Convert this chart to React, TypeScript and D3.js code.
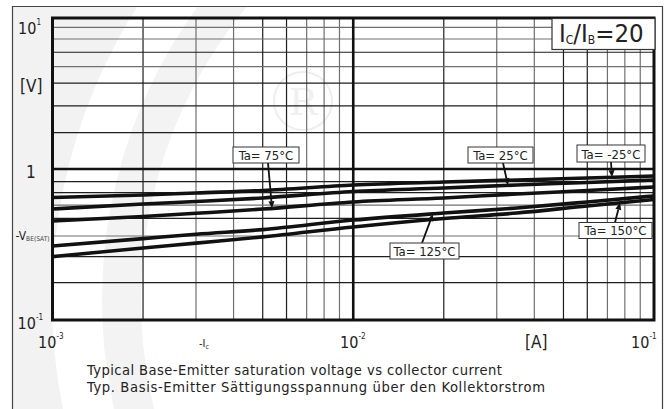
import { useEffect, useRef } from 'react';
import * as d3 from 'd3';

// collector current [A]
const currents = [0.001, 0.002, 0.003, 0.005, 0.01, 0.02, 0.035, 0.06, 0.1];
// -VBE(sat) [V] per ambient temperature
const vbeTaM25 = [0.647, 0.673, 0.694, 0.72, 0.784, 0.82, 0.846, 0.872, 0.899];
const vbeTa25 = [0.543, 0.586, 0.609, 0.643, 0.71, 0.748, 0.784, 0.814, 0.846];
const vbeTa75 = [0.452, 0.485, 0.509, 0.543, 0.605, 0.643, 0.683, 0.72, 0.76];
const vbeTa125 = [0.309, 0.346, 0.37, 0.397, 0.459, 0.511, 0.552, 0.605, 0.663];
const vbeTa150 = [0.263, 0.3, 0.323, 0.355, 0.413, 0.47, 0.511, 0.569, 0.628];
const seriesLabels = ['Ta= -25°C', 'Ta= 25°C', 'Ta= 75°C', 'Ta= 125°C', 'Ta= 150°C'];
// current where each label's arrow touches its curve
const arrowCurrents = [0.0725, 0.0327, 0.00537, 0.0184, 0.0771];

const xDecades = [0.001, 0.01];
const xMultipliers = [2, 3, 4, 5, 6, 7, 8, 9];
const yGridValues = [8.68, 7.26, 5.93, 4.76, 3.7, 2.62, 1.74, 0.824, 0.697, 0.577, 0.471, 0.36, 0.263, 0.177];

const captionLines = [
  'Typical Base-Emitter saturation voltage vs collector current',
  'Typ. Basis-Emitter Sättigungsspannung über den Kollektorstrom',
];

const FONT = '"DejaVu Sans Condensed", "DejaVu Sans", sans-serif';

export default function App() {
  const svgRef = useRef<SVGSVGElement>(null);

  useEffect(() => {
    if (!svgRef.current) return;
    const W = 668;
    const H = 409;
    const svg = d3.select(svgRef.current).attr('width', W).attr('height', H);
    svg.selectAll('*').remove();

    const left = 52.5, right = 654, top = 18, bottom = 320;
    const x = d3.scaleLog().domain([1e-3, 1e-1]).range([left, right]);
    const y = d3.scaleLog().domain([0.1, 10]).range([bottom, top]);

    // frame + faint watermark
    const defs = svg.append('defs');
    defs.append('clipPath').attr('id', 'frame-clip')
      .append('rect').attr('x', 12).attr('y', 7).attr('width', 651).attr('height', H);

    svg.append('rect').attr('width', W).attr('height', H).attr('fill', '#ffffff');
    const wm = svg.append('g').attr('clip-path', 'url(#frame-clip)');
    wm.append('rect').attr('x', 12).attr('y', 7).attr('width', 651).attr('height', H).attr('fill', '#f2f2f2');
    wm.append('circle').attr('cx', 600).attr('cy', 300).attr('r', 548).attr('fill', '#ffffff');
    wm.append('circle').attr('cx', 600).attr('cy', 300).attr('r', 498).attr('fill', '#f3f3f3');
    wm.append('circle').attr('cx', 600).attr('cy', 300).attr('r', 459).attr('fill', '#ffffff');
    wm.append('circle').attr('cx', 303).attr('cy', 101).attr('r', 29)
      .attr('fill', 'none').attr('stroke', '#eeeeee').attr('stroke-width', 2);
    wm.append('text').attr('x', 303).attr('y', 115).attr('text-anchor', 'middle')
      .attr('font-family', 'DejaVu Serif, serif').attr('font-size', 38).attr('fill', '#f0f0f0').text('R');

    svg.append('path')
      .attr('d', `M12.5,${H} V6.5 H662.5 V${H}`)
      .attr('fill', 'none').attr('stroke', '#444').attr('stroke-width', 1.2);

    // grid
    const grid = svg.append('g');
    const xGrayMult = new Set([3, 4, 7, 8, 9]);
    const xMinor = xDecades.flatMap(d => xMultipliers.map(m => ({ v: d * m, m })));
    grid.selectAll('.gx').data(xMinor).enter().append('line')
      .attr('x1', d => x(d.v)).attr('x2', d => x(d.v))
      .attr('y1', top).attr('y2', bottom)
      .attr('stroke', d => xGrayMult.has(d.m) ? '#707070' : '#1e1e1e')
      .attr('stroke-width', 1.2);

    const yGray = new Set([8.68, 7.26, 4.76, 0.577, 0.36]);
    grid.selectAll('.gy').data(yGridValues).enter().append('line')
      .attr('x1', left).attr('x2', right)
      .attr('y1', d => y(d)).attr('y2', d => y(d))
      .attr('stroke', d => yGray.has(d) ? '#707070' : '#1e1e1e')
      .attr('stroke-width', 1.2);

    grid.append('line').attr('x1', x(0.01)).attr('x2', x(0.01)).attr('y1', top).attr('y2', bottom)
      .attr('stroke', '#111').attr('stroke-width', 2.6);
    grid.append('line').attr('x1', left).attr('x2', right).attr('y1', y(1)).attr('y2', y(1))
      .attr('stroke', '#111').attr('stroke-width', 2.6);
    grid.append('rect').attr('x', left).attr('y', top).attr('width', right - left).attr('height', bottom - top)
      .attr('fill', 'none').attr('stroke', '#111').attr('stroke-width', 3);

    // curves
    const series = [vbeTaM25, vbeTa25, vbeTa75, vbeTa125, vbeTa150];
    const line = d3.line<number>()
      .x((_, i) => x(currents[i]))
      .y(d => y(d))
      .curve(d3.curveMonotoneX);
    svg.append('g').selectAll('path').data(series).enter().append('path')
      .attr('d', d => line(d))
      .attr('fill', 'none').attr('stroke', '#111').attr('stroke-width', 3.6)
      .attr('stroke-linejoin', 'round');

    const valueAt = (vals: number[], c: number) => {
      const interp = d3.scaleLinear().domain(currents.map(Math.log10)).range(vals.map(Math.log10));
      return Math.pow(10, interp(Math.log10(c)));
    };

    // annotation boxes (label box left/top/width/height, arrow tail)
    const boxes = [
      { bx: 577, by: 145, bw: 68, bh: 17, tx: 611, ty: 162 },
      { bx: 468, by: 147, bw: 65, bh: 16, tx: 503, ty: 163 },
      { bx: 233, by: 147, bw: 66, bh: 16, tx: 268, ty: 163 },
      { bx: 390, by: 243, bw: 69, bh: 16, tx: 422, ty: 243 },
      { bx: 579, by: 222.5, bw: 73, bh: 16, tx: 615, ty: 222.5 },
    ];
    const ann = svg.append('g');
    boxes.forEach((b, i) => {
      const tipX = x(arrowCurrents[i]);
      const tipY = y(valueAt(series[i], arrowCurrents[i]));
      const ang = Math.atan2(tipY - b.ty, tipX - b.tx);
      const hl = 7, hw = 3;
      const baseX = tipX - hl * Math.cos(ang), baseY = tipY - hl * Math.sin(ang);
      ann.append('line').attr('x1', b.tx).attr('y1', b.ty).attr('x2', baseX).attr('y2', baseY)
        .attr('stroke', '#111').attr('stroke-width', 1.8);
      const px = -Math.sin(ang), py = Math.cos(ang);
      ann.append('path')
        .attr('d', `M${tipX},${tipY} L${baseX + px * hw},${baseY + py * hw} L${baseX - px * hw},${baseY - py * hw} Z`)
        .attr('fill', '#111');
      ann.append('rect').attr('x', b.bx).attr('y', b.by).attr('width', b.bw).attr('height', b.bh)
        .attr('fill', '#fff').attr('stroke', '#333').attr('stroke-width', 1);
      ann.append('text').attr('x', b.bx + b.bw / 2).attr('y', b.by + b.bh - 3.5)
        .attr('text-anchor', 'middle').attr('font-family', FONT).attr('font-size', 13)
        .attr('fill', '#222').attr('xml:space', 'preserve').text(seriesLabels[i]);
    });

    // Ic/Ib box
    svg.append('rect').attr('x', 552).attr('y', 18.5).attr('width', 103).attr('height', 31)
      .attr('fill', '#fff').attr('stroke', '#333').attr('stroke-width', 1.2);
    const ratio = svg.append('text').attr('x', 559).attr('y', 41.5).attr('font-family', FONT)
      .attr('font-size', 25.5).attr('fill', '#222');
    ratio.append('tspan').text('I');
    ratio.append('tspan').attr('font-size', 12).attr('dy', 2).text('C');
    ratio.append('tspan').attr('dy', -2).text('/I');
    ratio.append('tspan').attr('font-size', 12).attr('dy', 2).text('B');
    ratio.append('tspan').attr('dy', -2).text('=20');

    // axis labels
    const txt = svg.append('g').attr('font-family', FONT).attr('fill', '#222');
    const power = (px: number, py: number, exp: string) => {
      txt.append('text').attr('x', px).attr('y', py).attr('font-size', 16).text('10');
      txt.append('text').attr('x', px + 18.5).attr('y', py - 9).attr('font-size', 8).text(exp);
    };
    power(18, 33.5, '1');
    power(17.5, 328.5, '-1');
    power(38, 348, '-3');
    power(340, 348, '-2');
    power(631, 348, '-1');
    txt.append('text').attr('x', 20).attr('y', 91.5).attr('font-size', 17).text('[V]');
    txt.append('text').attr('x', 26).attr('y', 178).attr('font-size', 17).text('1');
    const vbe = txt.append('text').attr('x', 15.5).attr('y', 239.5).attr('font-size', 12);
    vbe.append('tspan').text('-V');
    vbe.append('tspan').attr('font-size', 6.6).attr('fill', '#444').attr('dy', 1).text('BE(SAT)');
    const ic = txt.append('text').attr('x', 199).attr('y', 347).attr('font-size', 11);
    ic.append('tspan').text('-I');
    ic.append('tspan').attr('font-size', 7).attr('dy', 1.5).text('c');
    txt.append('text').attr('x', 525).attr('y', 348).attr('font-size', 17).text('[A]');

    const capWidths = [415, 458];
    txt.selectAll('.cap').data(captionLines).enter().append('text')
      .attr('x', 87).attr('y', (_, i) => 374.5 + i * 17.5)
      .attr('font-size', 14.6)
      .attr('textLength', (_, i) => capWidths[i])
      .attr('lengthAdjust', 'spacing')
      .text(d => d);
  }, []);

  return <svg ref={svgRef} style={{ position: 'absolute', left: 0, top: 0 }} />;
}
